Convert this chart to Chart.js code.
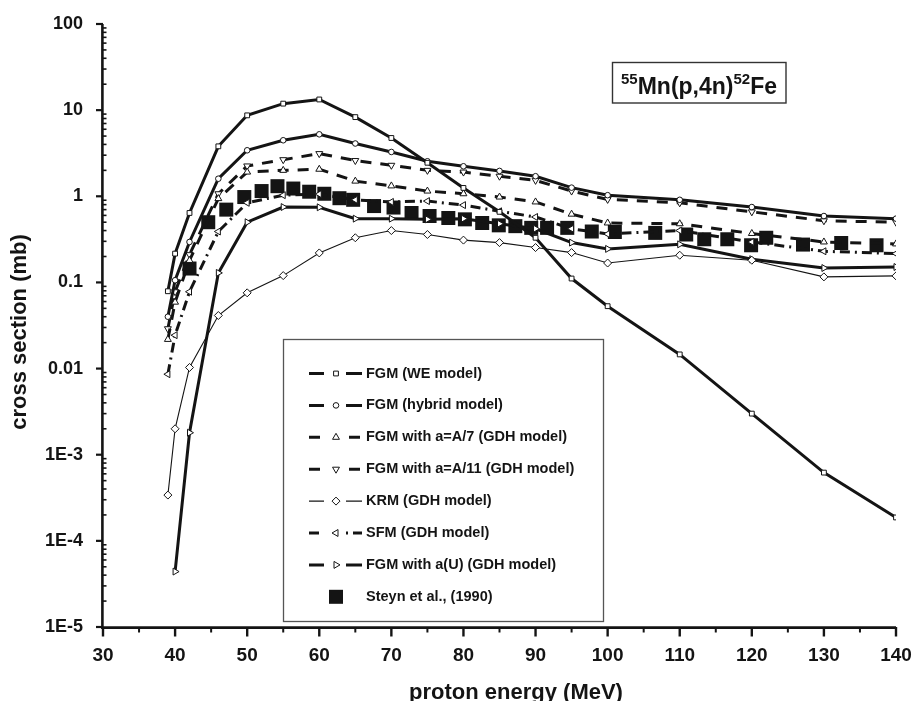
<!DOCTYPE html>
<html><head><meta charset="utf-8">
<script src="https://cdn.jsdelivr.net/npm/chart.js@4/dist/chart.umd.min.js"></script>
<style>html,body{margin:0;padding:0;background:#fff}#wrap{width:913px;height:701px}</style>
</head><body><div id="wrap"><canvas id="c" width="913" height="701"></canvas></div>
<script>
// ---- data ----
const energies   = [39, 40, 42, 46, 50, 55, 60, 65, 70, 75, 80, 85, 90, 95, 100, 110, 120, 130, 140];
const energiesAU = [40, 42, 46, 50, 55, 60, 65, 70, 75, 80, 85, 90, 95, 100, 110, 120, 130, 140];
const fgmWE      = [0.079, 0.216, 0.64, 3.8, 8.7, 11.9, 13.3, 8.3, 4.75, 2.45, 1.25, 0.66, 0.33, 0.111, 0.053, 0.0146, 0.003, 0.00062, 0.000187];
const fgmHybrid  = [0.040, 0.106, 0.295, 1.6, 3.42, 4.47, 5.24, 4.1, 3.27, 2.55, 2.23, 1.97, 1.71, 1.26, 1.03, 0.91, 0.75, 0.59, 0.55];
const fgmA7      = [0.0218, 0.059, 0.18, 0.94, 1.91, 2.0, 2.06, 1.5, 1.32, 1.15, 1.07, 0.98, 0.86, 0.62, 0.49, 0.48, 0.37, 0.295, 0.28];
const fgmA11     = [0.029, 0.078, 0.21, 1.07, 2.25, 2.66, 3.13, 2.6, 2.29, 2.0, 1.91, 1.71, 1.53, 1.15, 0.92, 0.84, 0.66, 0.52, 0.50];
const krm        = [0.00034, 0.0020, 0.0103, 0.0413, 0.0757, 0.12, 0.22, 0.33, 0.40, 0.36, 0.31, 0.29, 0.254, 0.222, 0.168, 0.207, 0.181, 0.116, 0.119];
const sfm        = [0.0086, 0.0244, 0.078, 0.39, 0.84, 1.03, 1.06, 0.91, 0.86, 0.88, 0.79, 0.67, 0.575, 0.42, 0.365, 0.40, 0.295, 0.23, 0.216];
const fgmAU      = [0.000044, 0.0018, 0.129, 0.50, 0.75, 0.745, 0.55, 0.55, 0.54, 0.55, 0.48, 0.42, 0.29, 0.245, 0.277, 0.186, 0.147, 0.151];
const steynEnergy = [42, 44.6, 47.1, 49.6, 52, 54.2, 56.4, 58.6, 60.7, 62.8, 64.7, 67.6, 70.3, 72.8, 75.3, 77.9, 80.2, 82.6, 84.9, 87.2, 89.4, 91.6, 94.4, 97.8, 101, 106.6, 110.9, 113.4, 116.6, 119.9, 122, 127.1, 132.4, 137.3];
const steynXS     = [0.145, 0.50, 0.70, 0.98, 1.15, 1.31, 1.23, 1.13, 1.07, 0.95, 0.91, 0.77, 0.74, 0.64, 0.59, 0.56, 0.54, 0.49, 0.46, 0.45, 0.43, 0.43, 0.43, 0.39, 0.385, 0.376, 0.36, 0.317, 0.317, 0.27, 0.33, 0.275, 0.287, 0.27];
const seriesNames = ['FGM (WE model)', 'FGM (hybrid model)', 'FGM with a=A/7 (GDH model)', 'FGM with a=A/11 (GDH model)', 'KRM (GDH model)', 'SFM (GDH model)', 'FGM with a(U) (GDH model)', 'Steyn et al., (1990)'];
const xTickValues = [30, 40, 50, 60, 70, 80, 90, 100, 110, 120, 130, 140];
const xTickLabels = ['30', '40', '50', '60', '70', '80', '90', '100', '110', '120', '130', '140'];
const yTickValues = [1e-5, 1e-4, 1e-3, 0.01, 0.1, 1, 10, 100];
const yTickLabels = ['1E-5', '1E-4', '1E-3', '0.01', '0.1', '1', '10', '100'];
const reactionLabel = ['55', 'Mn(p,4n)', '52', 'Fe'];
const xTitle = 'proton energy (MeV)';
const yTitle = 'cross section (mb)';

// ---- styles ----
const INK = '#141414';
const FONT = "'Liberation Sans', Arial, Helvetica, sans-serif";
Chart.defaults.font.family = FONT;
Chart.defaults.color = INK;

function pts(xs, ys) { return xs.map((x, i) => ({x: x, y: ys[i]})); }
const styles = [
  {pointStyle: 'rect', radius: 3.4, rotation: 0, width: 3, dash: []},
  {pointStyle: 'circle', radius: 2.8, rotation: 0, width: 3, dash: []},
  {pointStyle: 'triangle', radius: 4, rotation: 0, width: 3, dash: [11, 9]},
  {pointStyle: 'triangle', radius: 4, rotation: 180, width: 3, dash: [11, 9]},
  {pointStyle: 'rectRot', radius: 4, rotation: 0, width: 1.1, dash: []},
  {pointStyle: 'triangle', radius: 4, rotation: -90, width: 3, dash: [10, 5, 2, 5]},
  {pointStyle: 'triangle', radius: 4, rotation: 90, width: 3, dash: []}
];
const seriesData = [
  pts(energies, fgmWE), pts(energies, fgmHybrid), pts(energies, fgmA7), pts(energies, fgmA11),
  pts(energies, krm), pts(energies, sfm), pts(energiesAU, fgmAU)
];
const datasets = seriesData.map((d, i) => ({
  label: seriesNames[i], data: d, showLine: true, tension: 0,
  borderColor: INK, borderWidth: styles[i].width, borderDash: styles[i].dash,
  pointStyle: styles[i].pointStyle, pointRadius: styles[i].radius, pointRotation: styles[i].rotation,
  pointBackgroundColor: '#fff', pointBorderColor: INK, pointBorderWidth: 1, order: 1
}));
datasets.push({
  label: seriesNames[7], data: pts(steynEnergy, steynXS), showLine: false,
  pointStyle: 'rect', pointRadius: 9.9, pointBackgroundColor: INK, pointBorderColor: INK, pointBorderWidth: 0, order: 10
});

const framePlugin = {
  id: 'frame',
  afterDraw(chart) {
    const ctx = chart.ctx, a = chart.chartArea;
    const xs = chart.scales.x, ys = chart.scales.y;
    ctx.save();
    ctx.strokeStyle = INK; ctx.fillStyle = INK; ctx.setLineDash([]);
    // spines
    ctx.lineWidth = 2.6;
    ctx.beginPath(); ctx.moveTo(a.left - 0.6, a.top); ctx.lineTo(a.left - 0.6, a.bottom + 1.3); ctx.stroke();
    ctx.beginPath(); ctx.moveTo(a.left - 1.9, a.bottom + 0.6); ctx.lineTo(a.right, a.bottom + 0.6); ctx.stroke();
    // x ticks
    for (let v = 30; v <= 140; v += 5) {
      const px = xs.getPixelForValue(v);
      const major = v % 10 === 0;
      ctx.lineWidth = major ? 2.4 : 2;
      ctx.beginPath(); ctx.moveTo(px, a.bottom); ctx.lineTo(px, a.bottom + (major ? 9.5 : 5.5)); ctx.stroke();
    }
    // y ticks
    for (let e = -5; e <= 2; e++) {
      const py = ys.getPixelForValue(Math.pow(10, e));
      ctx.lineWidth = 2.2;
      ctx.beginPath(); ctx.moveTo(a.left - 7, py); ctx.lineTo(a.left, py); ctx.stroke();
      if (e < 2) {
        for (let m = 2; m <= 9; m++) {
          const pm = ys.getPixelForValue(m * Math.pow(10, e));
          ctx.lineWidth = 1.6;
          ctx.beginPath(); ctx.moveTo(a.left - 1, pm); ctx.lineTo(a.left + 3.5, pm); ctx.stroke();
        }
      }
    }
    // axis titles
    ctx.font = 'bold 22px ' + FONT;
    ctx.textAlign = 'center'; ctx.textBaseline = 'alphabetic';
    ctx.fillText(xTitle, 516, 699);
    ctx.save(); ctx.translate(25.5, 332); ctx.rotate(-Math.PI / 2); ctx.fillText(yTitle, 0, 0); ctx.restore();
    // reaction label box
    ctx.lineWidth = 1.4; ctx.strokeStyle = '#333';
    ctx.fillStyle = '#fff'; ctx.fillRect(612, 62, 174, 41);
    ctx.strokeRect(612.5, 62.5, 173.5, 40.5);
    ctx.fillStyle = INK; ctx.textAlign = 'left';
    let tx = 621;
    reactionLabel.forEach((s, i) => {
      const sup = i % 2 === 0;
      ctx.font = 'bold ' + (sup ? 15 : 23) + 'px ' + FONT;
      ctx.fillText(s, tx, sup ? 84 : 93.5);
      tx += ctx.measureText(s).width;
    });
    // legend
    ctx.fillStyle = '#fff'; ctx.fillRect(283, 339, 321, 283);
    ctx.lineWidth = 1.3; ctx.strokeStyle = '#555';
    ctx.strokeRect(283.5, 339.5, 320, 282);
    const lx0 = 309, lx1 = 362, mx = 336;
    seriesNames.forEach((name, i) => {
      const y = 373.5 + i * 31.9;
      if (i < 7) {
        const st = styles[i];
        ctx.strokeStyle = INK; ctx.lineWidth = st.width; ctx.setLineDash(st.dash);
        ctx.beginPath(); ctx.moveTo(lx0, y); ctx.lineTo(lx1, y); ctx.stroke();
        ctx.setLineDash([]);
        ctx.fillStyle = '#fff'; ctx.fillRect(324, y - 4, 22, 8);
        ctx.fillStyle = '#fff'; ctx.strokeStyle = INK; ctx.lineWidth = 1;
        Chart.helpers.drawPoint(ctx, {pointStyle: st.pointStyle, rotation: st.rotation, radius: st.radius, borderWidth: 1}, mx, y);
      } else {
        ctx.fillStyle = INK; ctx.fillRect(mx - 7, y - 7, 14, 14);
      }
      ctx.fillStyle = INK; ctx.font = 'bold 14.5px ' + FONT;
      ctx.textAlign = 'left'; ctx.textBaseline = 'middle';
      ctx.fillText(name, 366, y);
    });
    ctx.restore();
  }
};

new Chart(document.getElementById('c'), {
  type: 'scatter',
  data: {datasets: datasets},
  options: {
    responsive: false, animation: false, devicePixelRatio: 1,
    layout: {padding: {top: 24, right: 17, bottom: 0, left: 0}},
    plugins: {legend: {display: false}, tooltip: {enabled: false}, title: {display: false}},
    scales: {
      x: {
        type: 'linear', min: 30, max: 140,
        grid: {display: false, drawTicks: false}, border: {display: false},
        afterBuildTicks: s => { s.ticks = xTickValues.map(v => ({value: v})); },
        afterFit: s => { s.height = 74; s.paddingLeft = 0; s.paddingRight = 0; },
        ticks: {autoSkip: false, maxRotation: 0, padding: 17, color: INK,
          font: {size: 19, weight: 'bold'}, callback: (v, i) => xTickLabels[i]}
      },
      y: {
        type: 'logarithmic', min: 1e-5, max: 100,
        grid: {display: false, drawTicks: false}, border: {display: false},
        afterBuildTicks: s => { s.ticks = yTickValues.map(v => ({value: v})); },
        afterFit: s => { s.width = 103; s.paddingTop = 0; s.paddingBottom = 0; },
        ticks: {autoSkip: false, padding: 20, color: INK,
          font: {size: 18, weight: 'bold'}, callback: (v, i) => yTickLabels[i]}
      }
    }
  },
  plugins: [framePlugin]
});
</script>
</body></html>
